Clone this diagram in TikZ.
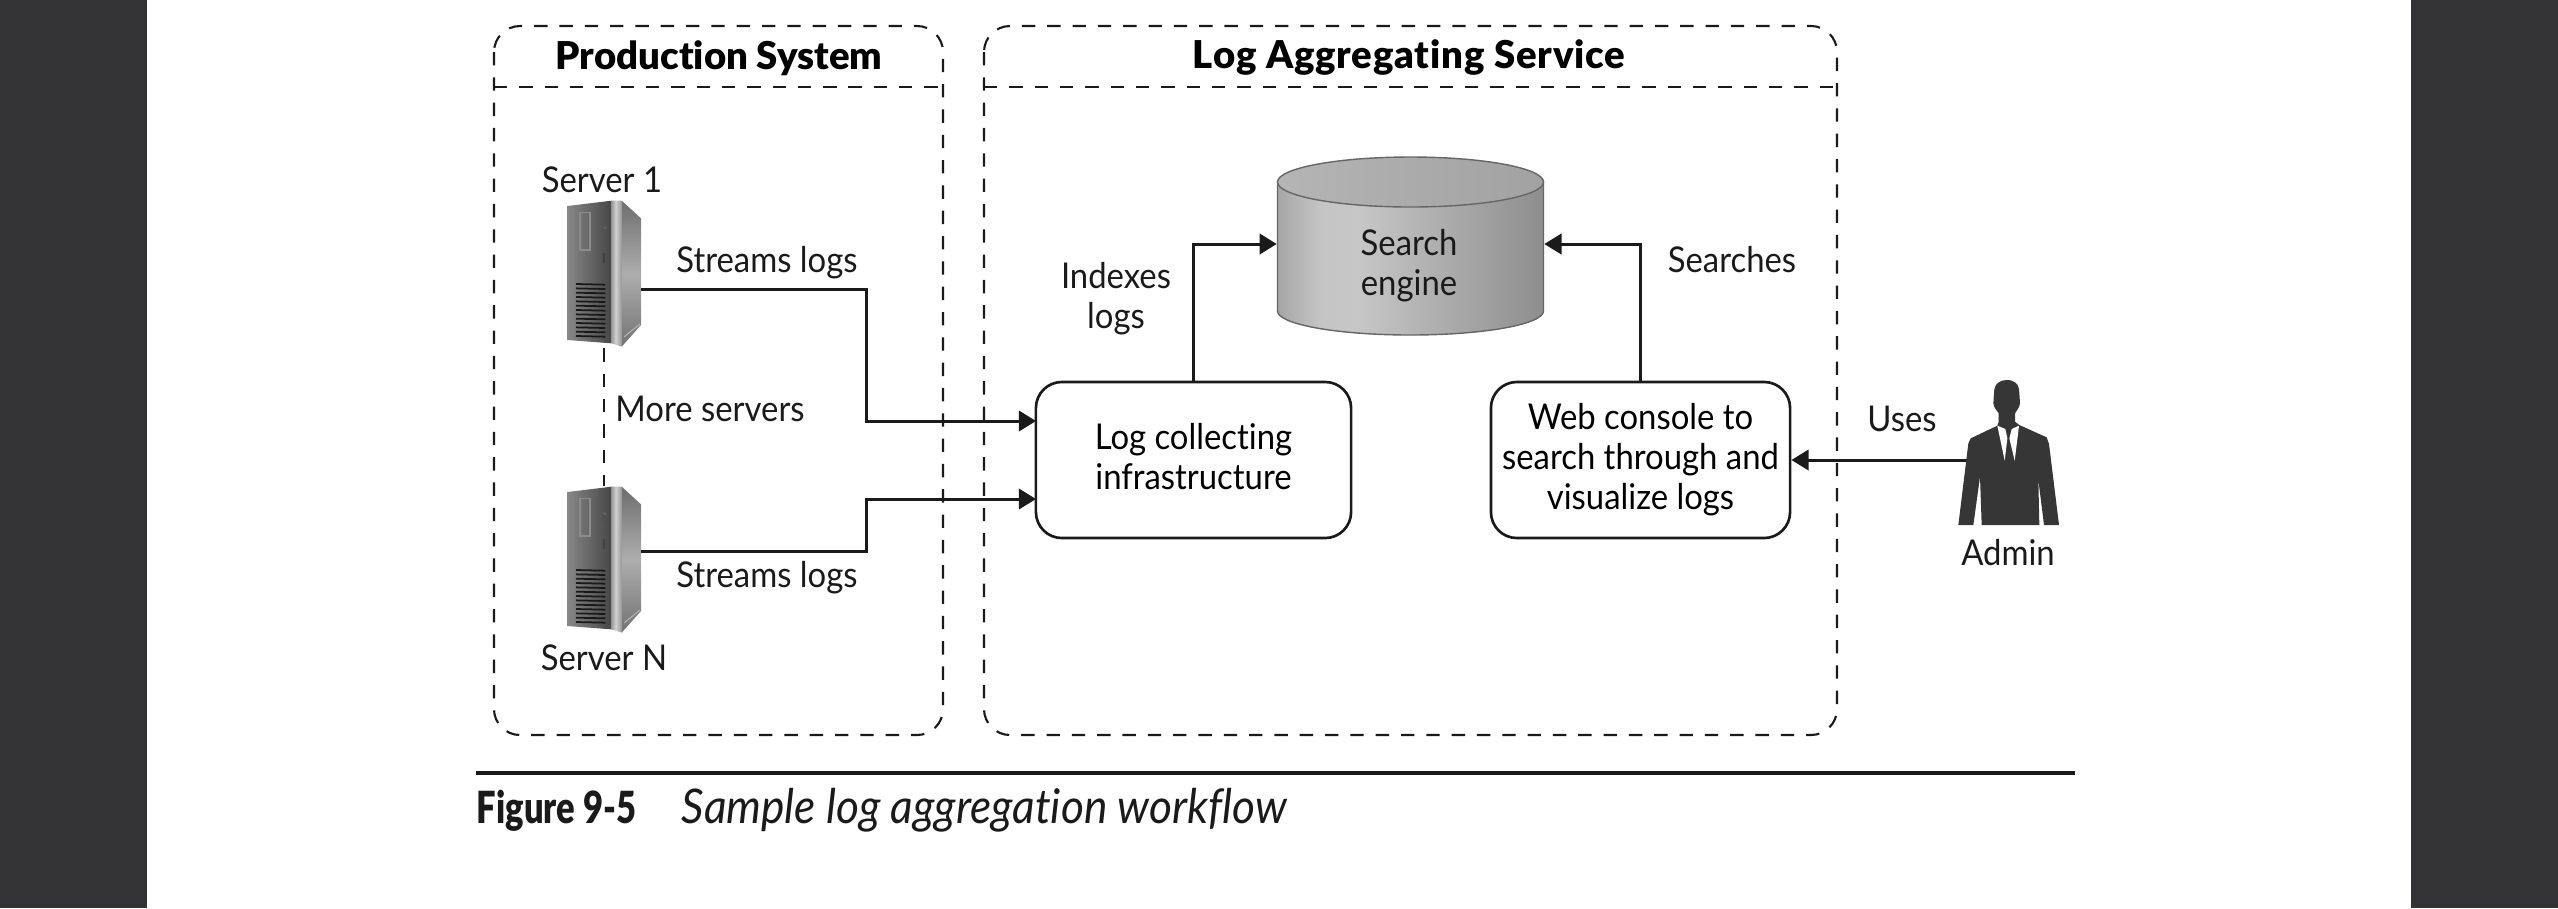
\documentclass[tikz,border=0pt]{standalone}
\usepackage{fontspec}
\setmainfont[FakeStretch=0.925,Ligatures=NoCommon]{Lato}
\newfontfamily\headfont[Ligatures=NoCommon]{Lato Black}
\newfontfamily\capfont[FakeStretch=0.78]{Lato Black}
\usetikzlibrary{arrows.meta,positioning,calc}
\definecolor{inkcolor}{RGB}{26,26,26}
\definecolor{bandcolor}{RGB}{51,51,53}
\definecolor{suitcolor}{RGB}{54,54,54}
\pgfdeclarehorizontalshading{cylbody}{100bp}{color(0bp)=(black!50); color(12bp)=(black!45); color(25bp)=(black!35); color(33bp)=(black!23); color(40bp)=(black!22); color(65bp)=(black!38); color(90bp)=(black!54); color(100bp)=(black!60)}
\pgfdeclarehorizontalshading{cyltop}{100bp}{color(0bp)=(black!25); color(50bp)=(black!33); color(100bp)=(black!40)}
\pgfdeclarehorizontalshading{towerfront}{100bp}{color(0bp)=(black!45); color(8bp)=(black!38); color(40bp)=(black!55); color(100bp)=(black!85)}
\pgfdeclareverticalshading{towerside}{100bp}{color(0bp)=(black!78); color(50bp)=(black!32); color(100bp)=(black!82)}
\pgfdeclarehorizontalshading{towerpost}{100bp}{color(0bp)=(black!65); color(45bp)=(black!18); color(100bp)=(black!60)}
\tikzset{
  panel/.style={draw=inkcolor, line width=0.6pt, dash pattern=on 3.8pt off 3.4pt, rounded corners=0.26cm},
  panelrule/.style={draw=inkcolor, line width=0.6pt, dash pattern=on 3.8pt off 3.4pt},
  flow/.style={draw=inkcolor, line width=0.85pt, -{Triangle[length=4.9pt,width=5.8pt]}},
  procbox/.style={draw=inkcolor, line width=0.75pt, rounded corners=0.26cm, fill=white, align=center, inner sep=0pt, font=\labelfont},
  txt/.style={inner sep=0pt, align=center, text=inkcolor, font=\labelfont},
  title/.style={inner sep=0pt, text=black, font=\titlefont},
  slot/.style={inner sep=0pt, minimum width=0.74cm, minimum height=1.47cm},
  tower/.pic={
    \begin{scope}[scale=1/3]
      \shade[shading=towerfront] (112,48) -- (245,32) -- (245,460) -- (112,450) -- cycle;
      \shade[shading=towerside] (275,32) -- (333,85) -- (333,405) -- (275,470) -- cycle;
      \shade[shading=towerpost] (245,32) -- (275,32) -- (275,470) -- (245,460) -- cycle;
      \draw[black!45, line width=0.4pt] (150,67) rectangle (180,180);
      \fill[black!60] (225,113) circle (5);
      \fill[black!70] (225,134) circle (3);
      \fill[black!75] (220,190) rectangle (224,218);
      \foreach \vy in {282,295,...,438}
        \draw[black!90, line width=0.5pt] (138,\vy) -- (226,\vy+2);
      \draw[black!30, line width=0.3pt] (283,440) -- (330,402);
    \end{scope}
  }
}
\newcommand{\labelfont}{\fontsize{10.1}{11.4}\selectfont}
\newcommand{\titlefont}{\headfont\fontsize{10.9}{13}\selectfont}
\begin{document}
\begin{tikzpicture}[x=0.01cm,y=-0.01cm]
  \useasboundingbox (0,0) rectangle (2558,908);
  \fill[bandcolor] (0,0) rectangle (147,908);
  \fill[bandcolor] (2411,0) rectangle (2558,908);

  % panels
  \draw[panel] (494,26) rectangle (943,735);
  \draw[panel] (984,26) rectangle (1837,735);
  \coordinate (prodl) at (494,87);
  \coordinate (prodr) at (943,87);
  \coordinate (aggl) at (984,87);
  \coordinate (aggr) at (1837,87);
  \draw[panelrule] (prodl) -- (prodr);
  \draw[panelrule] (aggl) -- (aggr);
  \node[title] (prodtitle) at (719,58) {Production System};
  \node[title] (aggtitle) at (1409,58) {\addfontfeature{LetterSpace=2}Log Aggregating Service};

  % servers
  \node[slot] (srvone) at (604,274) {};
  \node[slot] (srvn) at (604,560) {};
  \draw[panelrule] (srvone.south) -- (srvn.north);
  \pic at (530,190) {tower};
  \pic at (530,476) {tower};
  \node[txt] (srvonelabel) at (602,180) {Server 1};
  \node[txt] (srvnlabel) at (604,658) {Server N};
  \node[txt] (morelabel) at (710,409) {More servers};

  % boxes
  \node[procbox, minimum width=3.15cm, minimum height=1.56cm] (logbox) at (1193.5,460) {\raisebox{2pt}{Log collecting}\\\raisebox{2pt}{infrastructure}};
  \node[procbox, minimum width=2.99cm, minimum height=1.56cm] (webbox) at (1640.5,460) {Web console to\\search through and\\visualize logs};

  % search engine
  \node[inner sep=0pt, minimum width=2.66cm, minimum height=1.78cm] (search) at (1410.5,246) {};
  \shade[shading=cylbody, draw=black!60, line width=0.4pt] (1277.5,182) -- (1277.5,311) arc[start angle=180, end angle=0, x radius=133, y radius=24] -- (1543.5,182) -- cycle;
  \shade[shading=cyltop, draw=black!60, line width=0.4pt] (1410.5,182) ellipse [x radius=133, y radius=25];
  \node[txt] (searchlabel) at (1409,266) {Search\\engine};

  % logs to collector
  \coordinate (oneout) at (641,289);
  \coordinate (nout) at (641,551);
  \coordinate (onein) at (1036,421);
  \coordinate (nin) at (1036,499);
  \draw[flow] (oneout) -| (866,421) -- (onein);
  \draw[flow] (nout) -| (866,499) -- (nin);
  \node[txt] (streamone) at (767,263) {Streams logs};
  \node[txt] (streamn) at (767,578) {Streams logs};

  % collector and console to search
  \coordinate (searchl) at (search.west |- 0,244);
  \coordinate (searchr) at (search.east |- 0,244);
  \draw[flow] (logbox.north) |- (searchl);
  \draw[flow] (webbox.north) |- (searchr);
  \node[txt] (indexlabel) at (1116,299) {Indexes\\logs};
  \node[txt] (searcheslabel) at (1732,260) {Searches};

  % admin
  \node[inner sep=0pt, minimum width=1.01cm, minimum height=1.46cm] (admin) at (2008.5,453) {};
  \draw[flow] (admin.center |- webbox.east) -- (webbox.east);
  \begin{scope}[shift={(1900,360)},scale=1/3]
    \fill[suitcolor] (282,100) .. controls (282,70) and (300,60) .. (320,60) .. controls (342,60) and (358,70) .. (358,100) -- (360,130) .. controls (358,145) and (350,150) .. (345,160) -- (345,185) -- (358,195) -- (440,232) -- (447,252) -- (477,495) -- (432,495) -- (415,360) -- (418,495) -- (245,495) -- (240,350) -- (220,495) -- (175,495) -- (205,250) -- (212,235) -- (292,197) -- (296,185) -- (296,160) .. controls (290,150) and (282,145) .. (280,130) -- cycle;
    \fill[white] (292,197) -- (316,207) -- (322,235) -- (314,302) -- cycle;
    \fill[white] (357,197) -- (335,207) -- (328,235) -- (344,302) -- cycle;
  \end{scope}
  \node[txt] (adminlabel) at (2008,553) {Admin};
  \node[txt] (useslabel) at (1902,419) {Uses};

  % caption
  \coordinate (rulel) at (476,773);
  \coordinate (ruler) at (2075,773);
  \draw[inkcolor, line width=1.15pt] (rulel) -- (ruler);
  \node[inner sep=0pt, anchor=base west, text=inkcolor, font=\capfont\fontsize{12.6}{14}\selectfont] (fignum) at (476,823) {Figure 9-5};
  \node[inner sep=0pt, anchor=base west, text=inkcolor, font=\fontsize{13.6}{15}\selectfont\itshape] (figtext) at (681,823) {Sample log aggregation workflow};
\end{tikzpicture}
\end{document}
